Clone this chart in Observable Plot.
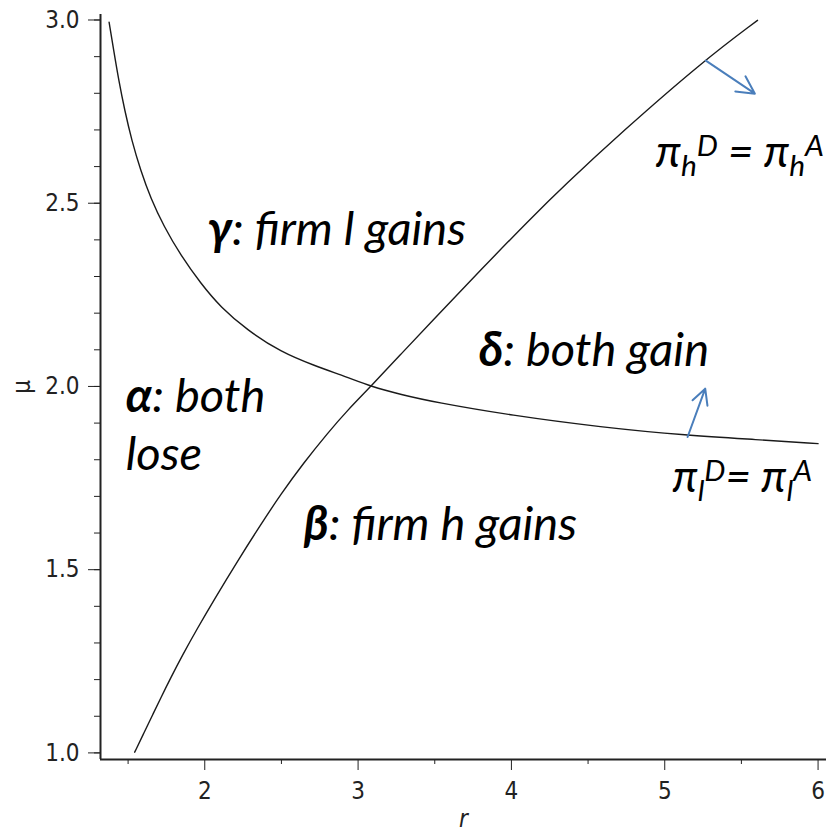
<!DOCTYPE html>
<html><head><meta charset="utf-8">
<script src="https://cdn.jsdelivr.net/npm/d3@7"></script>
<script src="https://cdn.jsdelivr.net/npm/@observablehq/plot@0.6"></script>
<style>body{margin:0;background:#fff;}</style>
</head><body><div id="chart"></div>
<script>
// π_l^D = π_l^A curve (decreasing)
const lCurveR  = [1.376, 1.406, 1.439, 1.478, 1.524, 1.582, 1.648, 1.733, 1.843, 1.974, 2.104, 2.279, 2.496, 2.713, 2.931, 3.083, 3.279, 3.5, 4.0, 4.583, 5.149, 5.6, 6.0];
const lCurveMu = [2.994, 2.917, 2.835, 2.753, 2.671, 2.589, 2.513, 2.437, 2.358, 2.281, 2.216, 2.153, 2.094, 2.057, 2.025, 2.000, 1.978, 1.957, 1.921, 1.889, 1.866, 1.855, 1.844];
// π_h^D = π_h^A curve (increasing)
const hCurveR  = [1.543, 1.604, 1.659, 1.713, 1.778, 1.855, 1.952, 2.061, 2.213, 2.365, 2.496, 2.648, 2.800, 2.931, 3.083, 3.279, 3.474, 3.800, 4.127, 4.344, 4.714, 5.257, 5.605];
const hCurveMu = [1.002, 1.055, 1.103, 1.150, 1.205, 1.267, 1.340, 1.418, 1.523, 1.623, 1.706, 1.793, 1.872, 1.935, 2.000, 2.088, 2.175, 2.318, 2.459, 2.548, 2.692, 2.890, 2.999];

const xTicks = [2, 3, 4, 5, 6];
const xMinorTicks = [1.5, 2.5, 3.5, 4.5, 5.5];
const yTicks = [1.0, 1.5, 2.0, 2.5, 3.0];
const yMinorTicks = [1.0,1.1,1.2,1.3,1.4,1.5,1.6,1.7,1.8,1.9,2.0,2.1,2.2,2.3,2.4,2.5,2.6,2.7,2.8,2.9,3.0];

const regionLabels = ["γ: firm l gains", "α: both\nlose", "δ: both gain", "β: firm h gains"];
const regionR  = [2.018, 1.485, 3.787, 2.646];
const regionMu = [2.385, 1.771, 2.057, 1.580];

const curveLabels  = ["π_h^D = π_h^A", "π_l^D= π_l^A"];
const curveLabelR  = [4.942, 5.051];
const curveLabelMu = [2.598, 1.712];

const arrowFromR  = [5.268, 5.149];
const arrowFromMu = [2.889, 1.862];
const arrowToR    = [5.588, 5.264];
const arrowToMu   = [2.799, 1.994];

const lCurve = lCurveR.map((r, i) => ({r, mu: lCurveMu[i]}));
const hCurve = hCurveR.map((r, i) => ({r, mu: hCurveMu[i]}));
const regions = regionLabels.map((t, i) => ({t, r: regionR[i], mu: regionMu[i]}));
const curveLab = curveLabels.map((t, i) => ({t, r: curveLabelR[i], mu: curveLabelMu[i]}));
const arrows = arrowFromR.map((r, i) => ({r1: r, mu1: arrowFromMu[i], r2: arrowToR[i], mu2: arrowToMu[i]}));

const xDomain = [1.32, 6.055];
const yDomain = [0.982, 3.015];
const axisFont = "'Liberation Sans Narrow', 'DejaVu Sans Condensed', sans-serif";
const annFont = "Lato, 'Open Sans', sans-serif";

const chart = Plot.plot({
  width: 826, height: 836,
  marginLeft: 100, marginRight: 0, marginTop: 14, marginBottom: 77,
  style: {fontFamily: axisFont, fontSize: "24px", color: "#222", background: "#fff"},
  x: {domain: xDomain},
  y: {domain: yDomain},
  marks: [
    Plot.axisX({ticks: xTicks, tickSize: 11, tickPadding: 11, tickFormat: d3.format("d"),
      label: "r", labelAnchor: "center", labelOffset: 67, labelArrow: "none", fontSize: 24}),
    Plot.axisX({ticks: xMinorTicks, tickSize: 5, tickFormat: () => "", label: null}),
    Plot.axisY({ticks: yTicks, tickSize: 12, tickPadding: 9, tickFormat: d3.format(".1f"),
      label: "μ", labelAnchor: "center", labelOffset: 88, labelArrow: "none", fontSize: 24}),
    Plot.axisY({ticks: yMinorTicks, tickSize: 6, tickFormat: () => "", label: null}),
    Plot.ruleX([xDomain[0]], {stroke: "#222", strokeWidth: 2}),
    Plot.ruleY([yDomain[0]], {stroke: "#222", strokeWidth: 2}),
    Plot.line(lCurve, {x: "r", y: "mu", stroke: "#1a1a1a", strokeWidth: 1.4, curve: "basis"}),
    Plot.line(hCurve, {x: "r", y: "mu", stroke: "#1a1a1a", strokeWidth: 1.4, curve: "basis"}),
    Plot.arrow(arrows, {x1: "r1", y1: "mu1", x2: "r2", y2: "mu2", stroke: "#4a7ebb", strokeWidth: 2, headLength: 20, headAngle: 55}),
    Plot.text(regions, {x: "r", y: "mu", text: "t", textAnchor: "start", lineAnchor: "bottom", lineHeight: 1.24,
      fontFamily: annFont, fontStyle: "italic", fontSize: 47, fill: "#000"}),
    Plot.text(curveLab.slice(0, 1), {x: "r", y: "mu", text: "t", textAnchor: "start", lineAnchor: "bottom",
      fontFamily: annFont, fontStyle: "italic", fontSize: 44, fill: "#000"}),
    Plot.text(curveLab.slice(1), {x: "r", y: "mu", text: "t", textAnchor: "start", lineAnchor: "bottom",
      fontFamily: annFont, fontStyle: "italic", fontSize: 44, fill: "#000"})
  ]
});
document.getElementById("chart").appendChild(chart);

const ns = "http://www.w3.org/2000/svg";
function boldLead(el) {
  const s = el.textContent;
  const m = s.match(/^([αβγδ])([\s\S]*)$/);
  if (!m) return;
  el.textContent = "";
  const b = document.createElementNS(ns, "tspan");
  b.setAttribute("font-weight", "bold");
  b.textContent = m[1];
  el.appendChild(b);
  el.appendChild(document.createTextNode(m[2]));
}
function scriptify(t, sub, sup) {
  const s = t.textContent;
  t.textContent = "";
  let shift = 0;
  for (let i = 0; i < s.length; i++) {
    let c = s[i], target = 0, small = false;
    if ((c === "_" || c === "^") && i + 1 < s.length) {
      target = c === "_" ? sub : -sup;
      c = s[++i];
      small = true;
    }
    const sp = document.createElementNS(ns, "tspan");
    sp.textContent = c;
    if (small) sp.setAttribute("font-size", "0.68em");
    const dy = target - shift;
    if (dy) sp.setAttribute("dy", dy);
    shift = target;
    t.appendChild(sp);
  }
}
Array.from(chart.querySelectorAll("text")).forEach(t => {
  const s = t.textContent;
  if (/[_^]/.test(s)) { scriptify(t, 9, 11); return; }
  if (/[αβγδ]/.test(s)) {
    const tsp = t.querySelectorAll("tspan");
    if (tsp.length) tsp.forEach(boldLead); else boldLead(t);
  }
  if (s === "r") t.setAttribute("font-style", "italic");
});
</script>
</body></html>
